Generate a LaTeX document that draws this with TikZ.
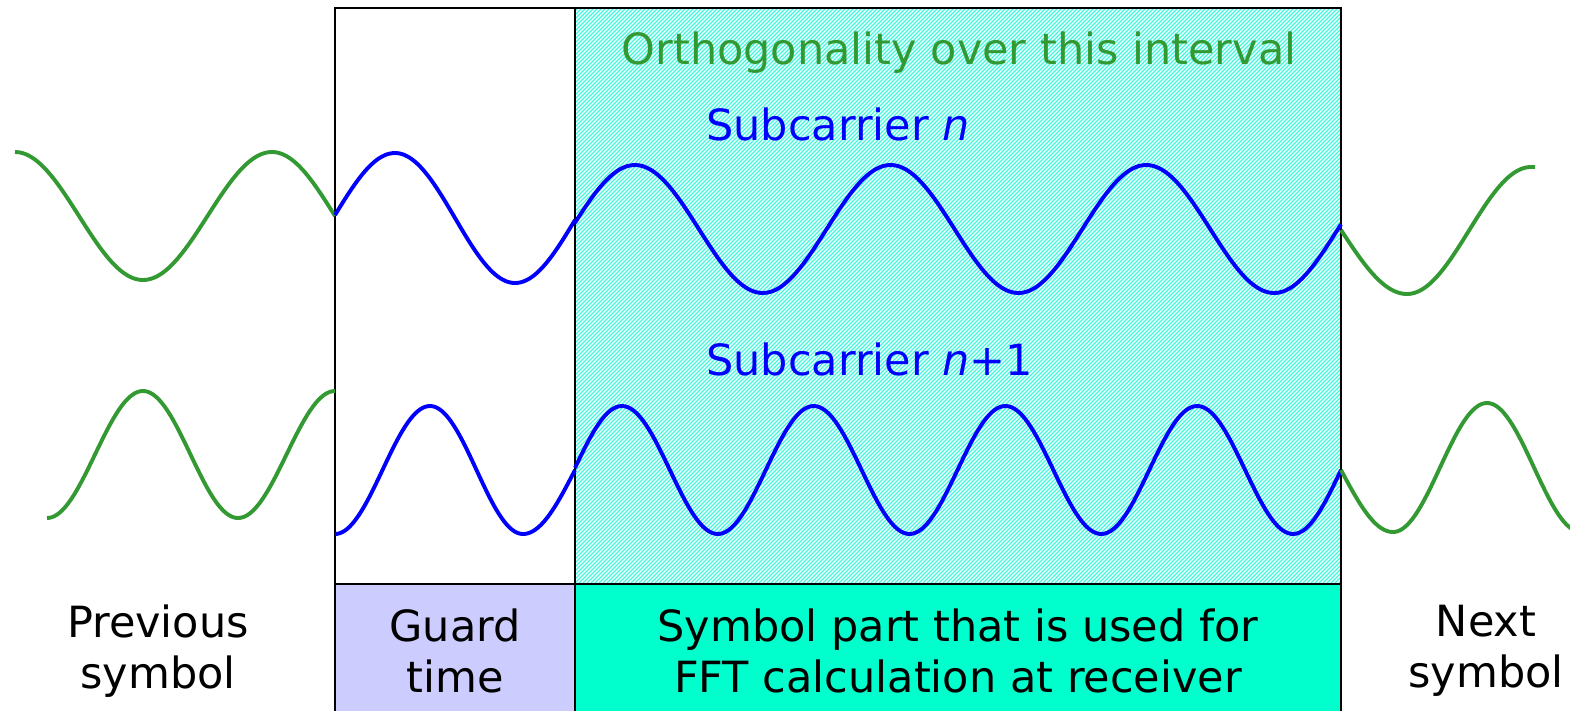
\documentclass[tikz,border=0pt]{standalone}
\usepackage{fontspec}
\setmainfont{DejaVu Sans}
\usetikzlibrary{patterns.meta}
\definecolor{wgreen}{HTML}{339933}
\definecolor{wblue}{HTML}{0000FF}
\definecolor{hatchc}{HTML}{3CF8DC}
\definecolor{guardc}{HTML}{CCCCFF}
\definecolor{fftc}{HTML}{00FFCC}
\begin{document}
\begin{tikzpicture}[x=1pt,y={(0pt,-1pt)},
  wave/.style={line width=3.9pt, line join=round},
  frame/.style={line width=2.2pt, black},
  lbl/.style={font=\fontsize{43}{51}\selectfont, align=center, inner sep=0pt},
  ttl/.style={font=\fontsize{43}{51}\selectfont, inner sep=0pt}]
\useasboundingbox (0,0) rectangle (1570,710);
\fill[white] (0,0) rectangle (1570,710);
% hatched interval
\fill[pattern={Lines[angle=45,distance=2.828427pt,line width=1.1pt]}, pattern color=hatchc] (575,8) rectangle (1341,584);
% bottom boxes
\fill[guardc] (335,584) rectangle (575,712);
\fill[fftc] (575,584) rectangle (1341,712);
% frame
\draw[frame] (335,712) -- (335,8) -- (1341,8) -- (1341,712);
\draw[frame] (575,8) -- (575,712);
\draw[frame] (335,584) -- (1341,584);

% texts
\node[ttl, text=wgreen, anchor=base] (orth) at (959,64) {Orthogonality over this interval};
\node[ttl, text=wblue, anchor=base west] (subn) at (706,140) {Subcarrier \textit{n}};
\node[ttl, text=wblue, anchor=base west] (subn1) at (706,375) {Subcarrier \textit{n}+1};
\node[lbl] (prev) at (158,651) {Previous\\symbol};
\node[lbl] (guard) at (455,651) {Guard\\time};
\node[lbl] (fft) at (958,651) {Symbol part that is used for\\FFT calculation at receiver};
\node[lbl] (next) at (1486,651) {Next\\symbol};

% upper waves
\draw[wave, wgreen] plot[domain=15:143,samples=50] (\x,{216-64*cos((\x-15)/128*180)})
  -- plot[domain=143:272,samples=50] (\x,{216+64*cos((\x-143)/129*180)})
  -- plot[domain=272:335,samples=30] (\x,{216-64*cos((\x-272)/63*90)});
\draw[wave, wblue] plot[domain=335:395,samples=30] (\x,{215-62*sin((\x-335)/60*90)})
  -- plot[domain=395:515,samples=50] (\x,{218-65*cos((\x-395)/120*180)})
  -- plot[domain=515:575,samples=30] (\x,{220+63*cos((\x-515)/60*90)});
\draw[wave, wblue] plot[domain=575:1341,samples=240] (\x,{229-64*sin((\x-571)/255.67*360)});
\draw[wave, wgreen] plot[domain=1341:1407,samples=30] (\x,{230+64*sin((\x-1341)/66*90)})
  -- plot[domain=1407:1531,samples=50] (\x,{230.5+63.5*cos((\x-1407)/124*180)})
  -- (1535,167);

% lower waves
\draw[wave, wgreen] plot[domain=47:143,samples=40] (\x,{454.5+63.5*cos((\x-47)/96*180)})
  -- plot[domain=143:238,samples=40] (\x,{454.5-63.5*cos((\x-143)/95*180)})
  -- plot[domain=238:335,samples=40] (\x,{454.5+63.5*cos((\x-238)/97*180)});
\draw[wave, wblue] plot[domain=335:430,samples=40] (\x,{470+64*cos((\x-335)/95*180)})
  -- plot[domain=430:523,samples=40] (\x,{470-64*cos((\x-430)/93*180)})
  -- plot[domain=523:575,samples=30] (\x,{470+64*cos((\x-523)/52*90)});
\draw[wave, wblue] plot[domain=575:1341,samples=260] (\x,{470-64*sin((\x-574)/191.75*360)});
\draw[wave, wgreen] plot[domain=1341:1393,samples=30] (\x,{470+62*sin((\x-1341)/52*90)})
  -- plot[domain=1393:1487,samples=40] (\x,{467.5+64.5*cos((\x-1393)/94*180)})
  -- plot[domain=1487:1575,samples=40] (\x,{467.5-64.5*cos((\x-1487)/94*180)});
\end{tikzpicture}
\end{document}
